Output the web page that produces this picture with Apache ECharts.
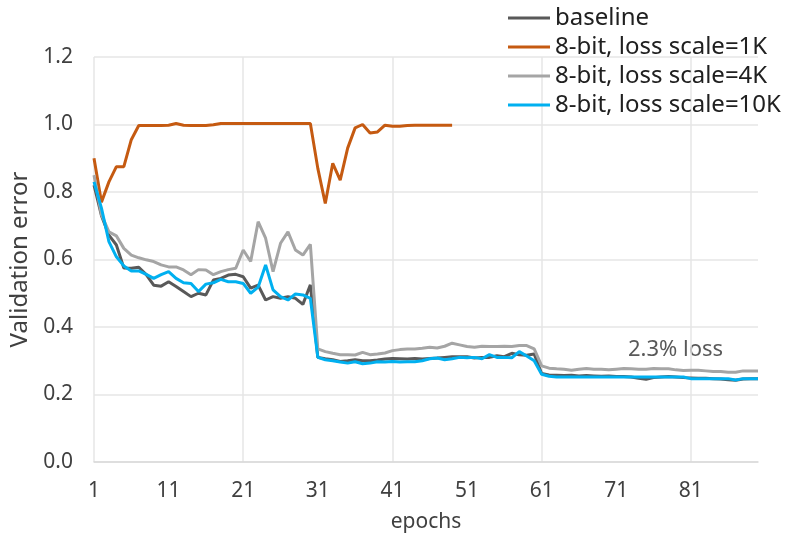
<!DOCTYPE html>
<html>
<head>
<meta charset="utf-8">
<script src="https://cdn.jsdelivr.net/npm/echarts@6/dist/echarts.min.js"></script>
<style>
  html, body { margin: 0; padding: 0; background: #fff; }
  #main { width: 806px; height: 544px; }
</style>
</head>
<body>
<div id="main"></div>
<script>
const epochs = [];
for (let e = 1; e <= 90; e++) epochs.push(String(e));

const yTicks = [0, 0.2, 0.4, 0.6, 0.8, 1.0, 1.2];

const baseline = [
  0.82, 0.73, 0.672, 0.643, 0.575, 0.574, 0.577, 0.555, 0.524, 0.521,
  0.534, 0.52, 0.505, 0.49, 0.5, 0.495, 0.539, 0.544, 0.554, 0.556,
  0.549, 0.515, 0.524, 0.48, 0.49, 0.485, 0.49, 0.485, 0.467, 0.525,
  0.31, 0.306, 0.303, 0.298, 0.3, 0.303, 0.3, 0.3, 0.302, 0.305,
  0.307, 0.306, 0.305, 0.307, 0.305, 0.307, 0.308, 0.31, 0.312, 0.312,
  0.312, 0.308, 0.31, 0.31, 0.315, 0.312, 0.322, 0.318, 0.316, 0.32,
  0.262, 0.258, 0.257, 0.256, 0.257, 0.255, 0.256, 0.255, 0.254, 0.255,
  0.253, 0.253, 0.252, 0.248, 0.245, 0.25, 0.252, 0.253, 0.252, 0.25,
  0.249, 0.248, 0.248, 0.247, 0.246, 0.244, 0.242, 0.246, 0.247, 0.247
];

const scale1K = [
  0.90, 0.77, 0.83, 0.875, 0.875, 0.955, 0.997, 0.997, 0.997, 0.997,
  0.998, 1.003, 0.998, 0.997, 0.997, 0.997, 0.999, 1.003, 1.003, 1.003,
  1.003, 1.003, 1.003, 1.003, 1.003, 1.003, 1.003, 1.003, 1.003, 1.003,
  0.87, 0.766, 0.885, 0.835, 0.93, 0.99, 1.0, 0.975, 0.978, 0.998,
  0.995, 0.995, 0.997, 0.998, 0.998, 0.998, 0.998, 0.998, 0.998
];

const scale4K = [
  0.85, 0.733, 0.682, 0.67, 0.633, 0.613, 0.605, 0.599, 0.594, 0.584,
  0.578, 0.578, 0.569, 0.555, 0.57, 0.569, 0.555, 0.564, 0.57, 0.574,
  0.628, 0.594, 0.712, 0.663, 0.564, 0.648, 0.682, 0.628, 0.613, 0.645,
  0.335, 0.327, 0.322, 0.318, 0.318, 0.317, 0.325, 0.318, 0.32, 0.323,
  0.33, 0.333, 0.335, 0.335, 0.337, 0.34, 0.338, 0.343, 0.352, 0.347,
  0.342, 0.34, 0.343, 0.342, 0.342, 0.343, 0.342, 0.345, 0.345, 0.335,
  0.285, 0.278, 0.276, 0.275, 0.272, 0.275, 0.277, 0.275, 0.275, 0.273,
  0.275, 0.277, 0.276, 0.275, 0.275, 0.277, 0.276, 0.276, 0.273, 0.271,
  0.272, 0.272, 0.27, 0.268, 0.268, 0.266, 0.266, 0.27, 0.27, 0.27
];

const scale10K = [
  0.83, 0.752, 0.653, 0.608, 0.581, 0.566, 0.566, 0.556, 0.544, 0.555,
  0.564, 0.544, 0.531, 0.529, 0.505, 0.527, 0.531, 0.541, 0.534, 0.534,
  0.529, 0.50, 0.518, 0.584, 0.51, 0.49, 0.48, 0.498, 0.495, 0.485,
  0.31, 0.303, 0.3, 0.296, 0.293, 0.297, 0.291, 0.293, 0.297, 0.296,
  0.298, 0.296, 0.297, 0.297, 0.3, 0.306, 0.308, 0.303, 0.306, 0.31,
  0.309, 0.31, 0.306, 0.318, 0.31, 0.31, 0.309, 0.327, 0.314, 0.3,
  0.26, 0.254, 0.252, 0.252, 0.252, 0.252, 0.252, 0.252, 0.252, 0.252,
  0.252, 0.252, 0.252, 0.252, 0.252, 0.252, 0.252, 0.252, 0.252, 0.252,
  0.247, 0.247, 0.247, 0.247, 0.247, 0.247, 0.243, 0.247, 0.247, 0.247
];

const font = "Noto Sans";
const textColor = "#404040";

let myChart = echarts.init(document.getElementById("main"));
myChart.setOption({
  animation: false,
  textStyle: { fontFamily: font },
  legend: {
    orient: "vertical",
    left: 503,
    top: 1,
    icon: "rect",
    itemWidth: 42,
    itemHeight: 3,
    itemGap: 5,
    textStyle: { fontSize: 24, lineHeight: 24, color: "#202020", fontFamily: font },
    data: ["baseline", "8-bit, loss scale=1K", "8-bit, loss scale=4K", "8-bit, loss scale=10K"],
  },
  grid: {
    left: 92,
    right: 48,
    top: 57,
    bottom: 82,
  },
  xAxis: {
    type: "category",
    name: "epochs",
    nameLocation: "middle",
    nameGap: 50,
    nameTextStyle: { fontSize: 21, color: textColor },
    boundaryGap: false,
    data: epochs,
    axisLine: { lineStyle: { color: "#d9d9d9", width: 1.5 } },
    axisTick: { show: false },
    axisLabel: { interval: 9, margin: 19, fontSize: 21, color: textColor },
    splitLine: {
      show: true,
      interval: function (i) { return i % 20 === 0; },
      lineStyle: { color: "#e6e6e6", width: 1.5 },
    },
  },
  yAxis: {
    type: "value",
    name: "Validation error",
    nameLocation: "middle",
    nameGap: 62,
    nameTextStyle: { fontSize: 24, color: textColor },
    min: yTicks[0],
    max: yTicks[yTicks.length - 1],
    interval: 0.2,
    axisLine: { show: false },
    axisTick: { show: false },
    axisLabel: {
      margin: 21,
      fontSize: 21,
      color: textColor,
      formatter: (v) => v.toFixed(1),
    },
    splitLine: { lineStyle: { color: "#e6e6e6", width: 1.5 } },
  },
  graphic: [
    {
      type: "text",
      left: 628,
      top: 339,
      style: { text: "2.3% loss", fontSize: 22, fill: "#595959", fontFamily: font },
    },
  ],
  series: [
    {
      name: "baseline",
      type: "line",
      data: baseline,
      symbol: "none",
      lineStyle: { color: "#595959", width: 3 },
      itemStyle: { color: "#595959" },
    },
    {
      name: "8-bit, loss scale=1K",
      type: "line",
      data: scale1K,
      symbol: "none",
      lineStyle: { color: "#c55a11", width: 3 },
      itemStyle: { color: "#c55a11" },
    },
    {
      name: "8-bit, loss scale=4K",
      type: "line",
      data: scale4K,
      symbol: "none",
      lineStyle: { color: "#a5a5a5", width: 3 },
      itemStyle: { color: "#a5a5a5" },
    },
    {
      name: "8-bit, loss scale=10K",
      type: "line",
      data: scale10K,
      symbol: "none",
      lineStyle: { color: "#00b0f0", width: 3 },
      itemStyle: { color: "#00b0f0" },
    },
  ],
});
</script>
</body>
</html>
